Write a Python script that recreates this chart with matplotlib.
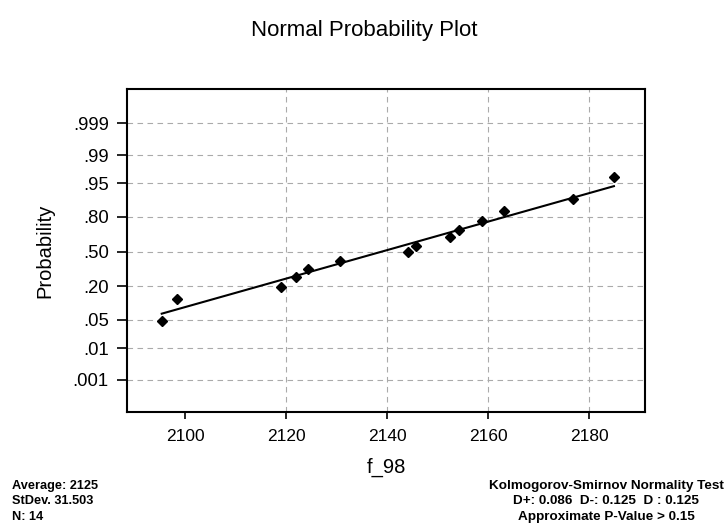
from statistics import NormalDist

import matplotlib
matplotlib.use('Agg')
import matplotlib.pyplot as plt

# measured values of f_98 (sorted) and their plotted probabilities
f98 = [2095.4, 2098.5, 2119.0, 2122.0, 2124.4, 2130.6, 2144.1,
       2145.7, 2152.5, 2154.3, 2158.8, 2163.2, 2176.8, 2184.9]
prob = [0.046, 0.125, 0.198, 0.271, 0.341, 0.414, 0.500,
        0.557, 0.634, 0.701, 0.771, 0.833, 0.897, 0.963]

# fitted normal line
fit_mean = 2139.0
fit_sd = 29.1

prob_ticks = [0.001, 0.01, 0.05, 0.20, 0.50, 0.80, 0.95, 0.99, 0.999]
prob_labels = ['.001', '.01', '.05', '.20', '.50', '.80', '.95', '.99', '.999']
x_ticks = [2100, 2120, 2140, 2160, 2180]
x_grid = [2120, 2140, 2160, 2180]

stats_left = ['Average: 2125', 'StDev. 31.503', 'N: 14']
stats_right = ['Kolmogorov-Smirnov Normality Test',
               'D+: 0.086  D-: 0.125  D : 0.125',
               'Approximate P-Value > 0.15']

plt.rcParams['font.family'] = ['Liberation Sans', 'DejaVu Sans']

nd = NormalDist()
z = [nd.inv_cdf(p) for p in prob]
z_ticks = [nd.inv_cdf(p) for p in prob_ticks]

fig = plt.figure(figsize=(7.25, 5.26), dpi=100)
ax = fig.add_axes([0.175, 0.2167, 0.715, 0.6141])

# dashed grid
for zt in z_ticks:
    ax.axhline(zt, color='#aaaaaa', lw=0.8, dashes=(5, 4), zorder=1)
for xg in x_grid:
    ax.axvline(xg, color='#aaaaaa', lw=0.8, dashes=(5, 4), zorder=1)

x0, x1 = min(f98), max(f98)
ax.plot([x0, x1], [(x0 - fit_mean) / fit_sd, (x1 - fit_mean) / fit_sd],
        color='black', lw=1.5, zorder=2)
ax.plot(f98, z, 'D', color='black', ms=5, zorder=3)

ax.set_xlim(2088.5, 2191.1)
ax.set_ylim(-3.87, 3.92)
ax.set_xticks(x_ticks)
ax.set_yticks(z_ticks)
ax.set_yticklabels(prob_labels)
ax.tick_params(direction='out', width=1.2, colors='black')
ax.tick_params(axis='x', length=5, labelsize=12.5, pad=7)
ax.tick_params(axis='y', length=7, labelsize=13.3, pad=6)
for s in ax.spines.values():
    s.set_linewidth(1.5)

ax.set_ylabel('Probability', fontsize=14.5, labelpad=13)
ax.set_xlabel('f_98', fontsize=14.5, labelpad=10)

fig.text(0.502, 0.942, 'Normal Probability Plot', fontsize=16,
         ha='center', va='center')

for i, line in enumerate(stats_left):
    fig.text(0.016, 0.076 - i * 0.029, line, fontsize=9.2,
             fontweight='bold', ha='left', va='center')
for i, line in enumerate(stats_right):
    fig.text(0.836, 0.076 - i * 0.029, line, fontsize=9.7,
             fontweight='bold', ha='center', va='center')

fig.savefig('out.png', dpi=100)
